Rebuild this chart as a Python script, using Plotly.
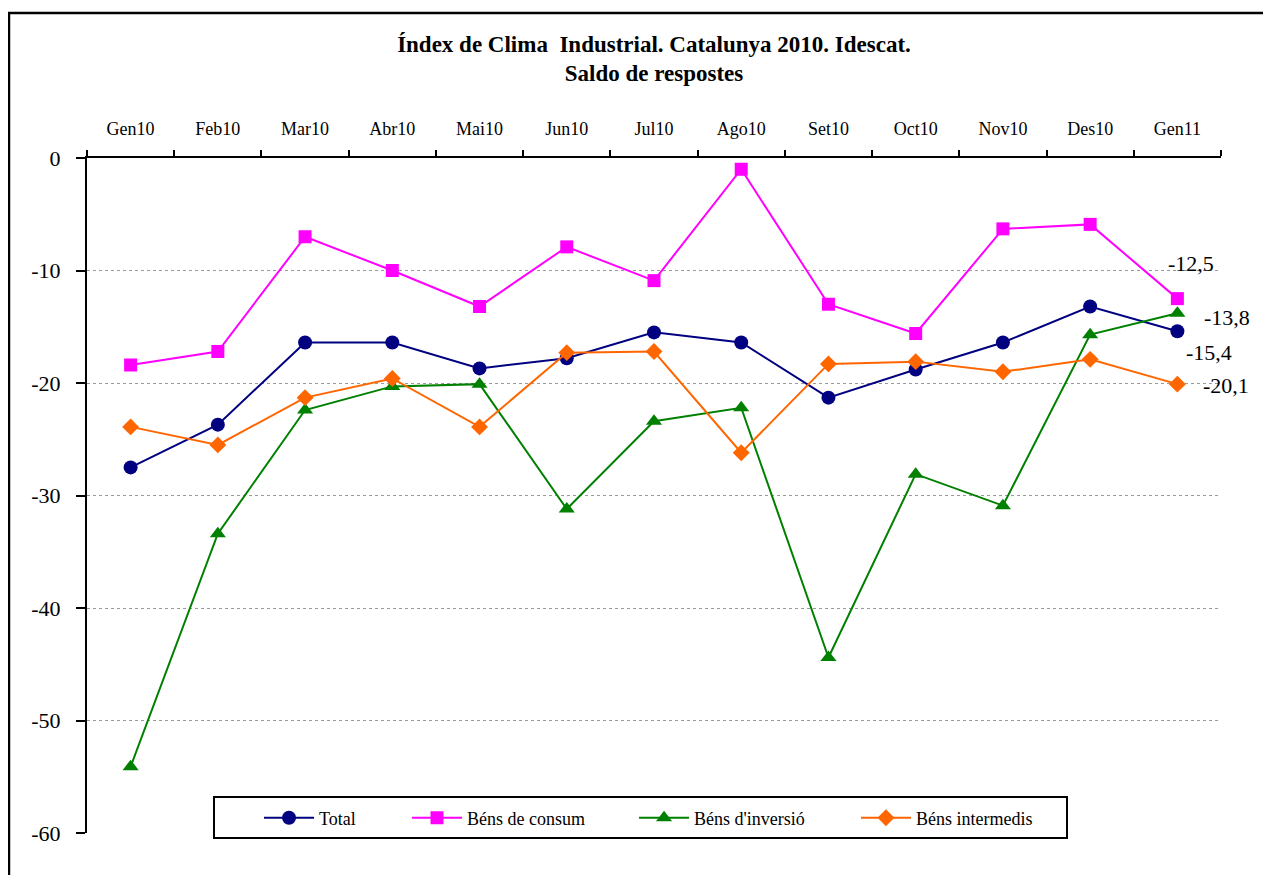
import plotly.graph_objects as go

months = ["Gen10", "Feb10", "Mar10", "Abr10", "Mai10", "Jun10", "Jul10",
          "Ago10", "Set10", "Oct10", "Nov10", "Des10", "Gen11"]
total = [-27.5, -23.7, -16.4, -16.4, -18.7, -17.8, -15.5, -16.4, -21.3, -18.8, -16.4, -13.2, -15.4]
consum = [-18.4, -17.2, -7.0, -10.0, -13.2, -7.9, -10.9, -1.0, -13.0, -15.6, -6.3, -5.9, -12.5]
inversio = [-54.1, -33.4, -22.4, -20.3, -20.1, -31.2, -23.4, -22.2, -44.4, -28.1, -30.9, -15.7, -13.8]
intermedis = [-23.9, -25.5, -21.3, -19.6, -23.9, -17.3, -17.2, -26.2, -18.3, -18.1, -19.0, -17.9, -20.1]
y_ticks = [0, -10, -20, -30, -40, -50, -60]
y_tick_text = ["0", "-10", "-20", "-30", "-40", "-50", "-60"]

series = [
    ("Total", total, "#000080", "circle", 14, "legend", 0.1517),
    ("Béns de consum", consum, "#FF00FF", "square", 13, "legend2", 0.2822),
    ("Béns d'inversió", inversio, "#008000", "triangle-up", 14, "legend3", 0.4824),
    ("Béns intermedis", intermedis, "#FF6600", "diamond", 13, "legend4", 0.6781),
]

FONT = "Liberation Serif"
fig = go.Figure()
for name, vals, col, sym, sz, lg, lx in series:
    fig.add_trace(go.Scatter(
        x=months, y=vals, name=name, mode="lines+markers",
        line=dict(color=col, width=2),
        marker=dict(symbol=sym, size=sz, color=col),
        legend=lg,
    ))

# end labels
label_offsets = {
    "Béns de consum": (14, 35),
    "Béns d'inversió": (50, -4),
    "Total": (32, -21),
    "Béns intermedis": (49, -1),
}
for name, vals, col, sym, sz, lg, lx in series:
    dx, dy = label_offsets[name]
    fig.add_annotation(
        x=months[-1], y=vals[-1], text=f"{vals[-1]:.1f}".replace(".", ","),
        showarrow=False, xshift=dx, yshift=dy,
        font=dict(family=FONT, size=22, color="black"),
    )

# outer frame
fig.add_shape(type="rect", xref="paper", yref="paper",
              x0=-0.0688, x1=1.08, y0=-0.1, y1=1.2148,
              line=dict(color="black", width=2.5), layer="above")
# legend box
fig.add_shape(type="rect", xref="paper", yref="paper",
              x0=0.112, x1=0.8642, y0=-0.0074, y1=0.0533,
              line=dict(color="black", width=2), fillcolor="white", layer="above")

legend_common = dict(
    orientation="h", yanchor="middle", xanchor="left", y=0.0222,
    bgcolor="rgba(0,0,0,0)", borderwidth=0,
    font=dict(family=FONT, size=18, color="black"),
    itemwidth=50,
)
layout_legends = {}
for name, vals, col, sym, sz, lg, lx in series:
    layout_legends[lg] = dict(legend_common, x=lx)

fig.update_layout(
    width=1263, height=867,
    paper_bgcolor="white", plot_bgcolor="white",
    margin=dict(l=79, r=50, t=150, b=42),
    font=dict(family=FONT, color="black"),
    title=dict(
        text="<b>Índex de Clima  Industrial. Catalunya 2010. Idescat.<br>Saldo de respostes</b>",
        xref="paper", x=0.5, xanchor="center",
        yref="container", y=1 - 43.5 / 867, yanchor="middle",
        font=dict(family=FONT, size=23, color="black"),
    ),
    showlegend=True,
    **layout_legends,
)
fig.update_xaxes(
    type="category", side="top", range=[-0.5, 12.5],
    showline=True, linecolor="black", linewidth=2,
    ticks="outside", tickson="boundaries", ticklen=6, tickcolor="black", tickwidth=1.5,
    tickfont=dict(family=FONT, size=18, color="black"),
    showgrid=False, zeroline=False, ticklabelstandoff=14,
)
fig.update_yaxes(
    range=[-60, 0], tickvals=y_ticks, ticktext=y_tick_text,
    showline=True, linecolor="black", linewidth=2,
    ticks="outside", ticklen=9, tickcolor="black", tickwidth=1.5,
    tickfont=dict(family=FONT, size=22, color="black"),
    showgrid=True, gridcolor="#9a9a9a", griddash="dot", gridwidth=1,
    zeroline=False, ticklabelstandoff=11,
)

fig.write_html("out.html")
